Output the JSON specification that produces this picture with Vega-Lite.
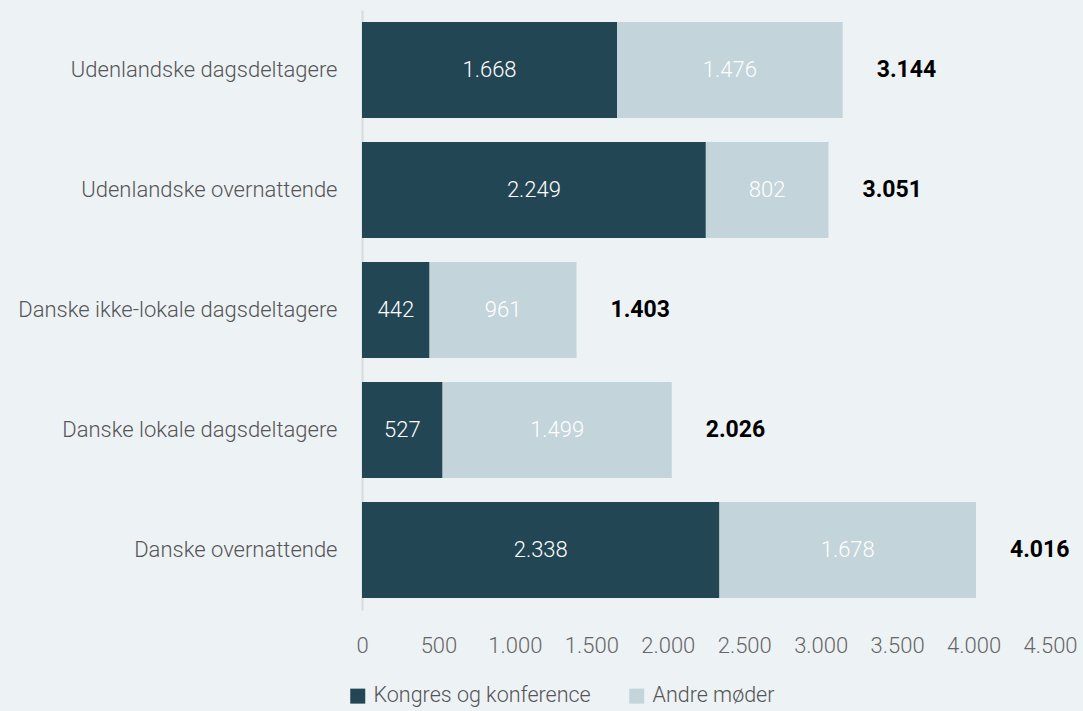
{
  "$schema": "https://vega.github.io/schema/vega-lite/v6.json",
  "width": 688,
  "height": 600,
  "autosize": {"type": "none"},
  "padding": {"left": 362, "top": 10, "right": 33, "bottom": 101},
  "background": "#EDF2F5",
  "config": {
    "view": {"stroke": null},
    "font": "Roboto",
    "locale": {"number": {"decimal": ",", "thousands": ".", "grouping": [3], "currency": ["", " kr."]}}
  },
  "datasets": {
    "segments": [
      {"kategori": "Udenlandske dagsdeltagere", "type": "Kongres og konference", "antal": 1668, "rk": 1},
      {"kategori": "Udenlandske dagsdeltagere", "type": "Andre møder", "antal": 1476, "rk": 2},
      {"kategori": "Udenlandske overnattende", "type": "Kongres og konference", "antal": 2249, "rk": 1},
      {"kategori": "Udenlandske overnattende", "type": "Andre møder", "antal": 802, "rk": 2},
      {"kategori": "Danske ikke-lokale dagsdeltagere", "type": "Kongres og konference", "antal": 442, "rk": 1},
      {"kategori": "Danske ikke-lokale dagsdeltagere", "type": "Andre møder", "antal": 961, "rk": 2},
      {"kategori": "Danske lokale dagsdeltagere", "type": "Kongres og konference", "antal": 527, "rk": 1},
      {"kategori": "Danske lokale dagsdeltagere", "type": "Andre møder", "antal": 1499, "rk": 2},
      {"kategori": "Danske overnattende", "type": "Kongres og konference", "antal": 2338, "rk": 1},
      {"kategori": "Danske overnattende", "type": "Andre møder", "antal": 1678, "rk": 2}
    ],
    "totals": [
      {"kategori": "Udenlandske dagsdeltagere", "total": 3144},
      {"kategori": "Udenlandske overnattende", "total": 3051},
      {"kategori": "Danske ikke-lokale dagsdeltagere", "total": 1403},
      {"kategori": "Danske lokale dagsdeltagere", "total": 2026},
      {"kategori": "Danske overnattende", "total": 4016}
    ]
  },
  "layer": [
    {
      "data": {"name": "segments"},
      "mark": {"type": "bar"},
      "encoding": {
        "y": {
          "field": "kategori", "type": "nominal",
          "sort": ["Udenlandske dagsdeltagere", "Udenlandske overnattende", "Danske ikke-lokale dagsdeltagere", "Danske lokale dagsdeltagere", "Danske overnattende"],
          "scale": {"paddingInner": 0.2, "paddingOuter": 0.1},
          "axis": {"title": null, "ticks": false, "grid": false, "domain": true, "domainColor": "#D6DBDE", "domainWidth": 2, "labelFontSize": 22, "labelFontWeight": 300, "labelColor": "#555555", "labelPadding": 25, "labelLimit": 400}
        },
        "x": {
          "field": "antal", "type": "quantitative", "stack": "zero",
          "scale": {"domain": [0, 4500], "nice": false},
          "axis": {"title": null, "values": [0, 500, 1000, 1500, 2000, 2500, 3000, 3500, 4000, 4500], "format": ",.0f", "domain": false, "ticks": false, "grid": false, "labelFontSize": 22, "labelFontWeight": 300, "labelColor": "#666666", "labelPadding": 25, "labelFlush": false, "labelOverlap": false}
        },
        "color": {
          "field": "type", "type": "nominal",
          "scale": {"domain": ["Kongres og konference", "Andre møder"], "range": ["#234655", "#C3D4DA"]},
          "legend": {"title": null, "orient": "none", "legendX": -15, "legendY": 675, "padding": 0, "direction": "horizontal", "symbolType": "square", "symbolSize": 225, "symbolStrokeWidth": 0, "labelFontSize": 21.5, "labelFontWeight": 300, "labelColor": "#555555", "labelLimit": 400, "columnPadding": 35, "labelOffset": 5}
        },
        "order": {"field": "rk", "type": "quantitative"}
      }
    },
    {
      "data": {"name": "segments"},
      "mark": {"type": "text", "color": "white", "fontSize": 22, "fontWeight": 300, "align": "center", "baseline": "middle"},
      "encoding": {
        "y": {"field": "kategori", "type": "nominal", "sort": ["Udenlandske dagsdeltagere", "Udenlandske overnattende", "Danske ikke-lokale dagsdeltagere", "Danske lokale dagsdeltagere", "Danske overnattende"]},
        "x": {"field": "antal", "type": "quantitative", "stack": "zero", "bandPosition": 0.5},
        "text": {"field": "antal", "type": "quantitative", "format": ",.0f"},
        "order": {"field": "rk", "type": "quantitative"},
        "detail": {"field": "type"}
      }
    },
    {
      "data": {"name": "totals"},
      "mark": {"type": "text", "color": "black", "fontSize": 23, "fontWeight": "bold", "align": "left", "baseline": "middle", "dx": 34},
      "encoding": {
        "y": {"field": "kategori", "type": "nominal", "sort": ["Udenlandske dagsdeltagere", "Udenlandske overnattende", "Danske ikke-lokale dagsdeltagere", "Danske lokale dagsdeltagere", "Danske overnattende"]},
        "x": {"field": "total", "type": "quantitative"},
        "text": {"field": "total", "type": "quantitative", "format": ",.0f"}
      }
    }
  ]
}
